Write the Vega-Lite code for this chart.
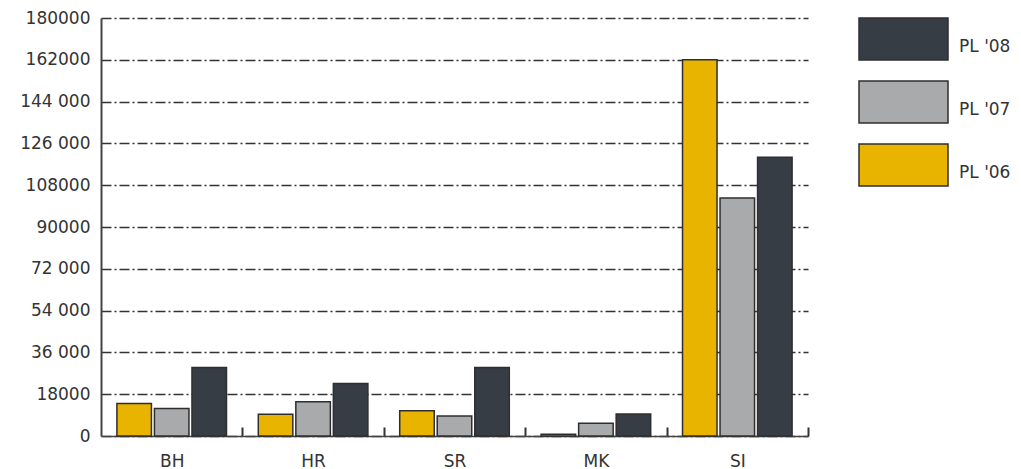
{
  "$schema": "https://vega.github.io/schema/vega-lite/v6.json",
  "autosize": "none",
  "padding": {"left": 101, "top": 18, "right": 213, "bottom": 33},
  "width": 707,
  "height": 418,
  "data": {
    "values": [
      {"country": "BH", "series": "PL '06", "value": 14000},
      {"country": "BH", "series": "PL '07", "value": 11800},
      {"country": "BH", "series": "PL '08", "value": 29500},
      {"country": "HR", "series": "PL '06", "value": 9400},
      {"country": "HR", "series": "PL '07", "value": 14800},
      {"country": "HR", "series": "PL '08", "value": 22600},
      {"country": "SR", "series": "PL '06", "value": 10900},
      {"country": "SR", "series": "PL '07", "value": 8600},
      {"country": "SR", "series": "PL '08", "value": 29500},
      {"country": "MK", "series": "PL '06", "value": 800},
      {"country": "MK", "series": "PL '07", "value": 5500},
      {"country": "MK", "series": "PL '08", "value": 9500},
      {"country": "SI", "series": "PL '06", "value": 162000},
      {"country": "SI", "series": "PL '07", "value": 102500},
      {"country": "SI", "series": "PL '08", "value": 120000}
    ]
  },
  "mark": {"type": "bar", "stroke": "#2e2e2e", "strokeWidth": 1.5},
  "encoding": {
    "x": {
      "field": "country",
      "type": "nominal",
      "sort": ["BH", "HR", "SR", "MK", "SI"],
      "scale": {"paddingInner": 0.225, "paddingOuter": 0.1125},
      "axis": {
        "title": null,
        "labelAngle": 0,
        "labelFont": "DejaVu Sans",
        "labelFontSize": 17,
        "labelColor": "#333333",
        "labelPadding": 26,
        "labelOffset": -70.7,
        "ticks": true,
        "tickBand": "center",
        "tickOffset": 70.7,
        "tickSize": -9,
        "tickColor": "#333333",
        "tickWidth": 2,
        "domainColor": "#444444",
        "domainWidth": 1.5
      }
    },
    "xOffset": {
      "field": "series",
      "type": "nominal",
      "sort": ["PL '06", "PL '07", "PL '08"],
      "scale": {"paddingInner": 0.08}
    },
    "y": {
      "field": "value",
      "type": "quantitative",
      "scale": {"domain": [0, 180000], "nice": false},
      "axis": {
        "title": null,
        "values": [0, 18000, 36000, 54000, 72000, 90000, 108000, 126000, 144000, 162000, 180000],
        "labelExpr": "indexof([144000,126000,72000,54000,36000], datum.value) >= 0 ? replace(format(datum.value, ','), ',', ' ') : format(datum.value, 'd')",
        "labelFont": "DejaVu Sans",
        "labelFontSize": 17,
        "labelColor": "#333333",
        "labelPadding": 11,
        "ticks": false,
        "grid": true,
        "gridColor": "#333333",
        "gridWidth": 1.3,
        "gridDash": [10, 3, 2, 3],
        "domainColor": "#444444",
        "domainWidth": 2
      }
    },
    "color": {
      "field": "series",
      "type": "nominal",
      "scale": {
        "domain": ["PL '08", "PL '07", "PL '06"],
        "range": ["#373d45", "#a9aaac", "#e8b400"]
      },
      "legend": {
        "title": null,
        "orient": "none",
        "legendX": 757,
        "legendY": -1,
        "symbolType": "M-1,-0.47H1V0.47H-1Z",
        "symbolSize": 7921,
        "symbolStrokeColor": "#2e2e2e",
        "symbolStrokeWidth": 1.5,
        "symbolOpacity": 1,
        "clipHeight": 44,
        "rowPadding": 19,
        "labelOffset": 10,
        "labelFont": "DejaVu Sans",
        "labelFontSize": 17,
        "labelColor": "#333333",
        "labelBaseline": "top",
        "padding": 0
      }
    }
  },
  "config": {
    "view": {"stroke": null},
    "axis": {"gridCap": "butt"}
  }
}
